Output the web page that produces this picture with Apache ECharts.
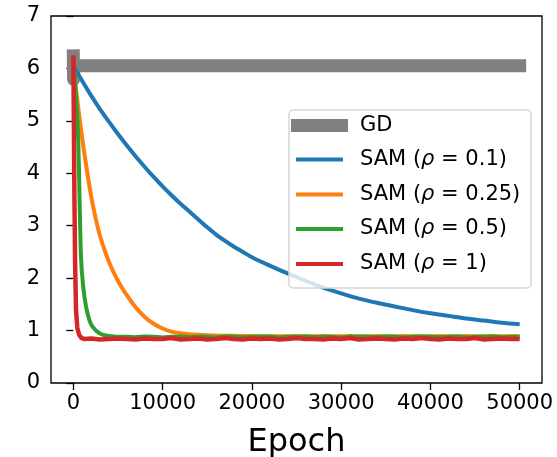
<!DOCTYPE html>
<html>
<head>
    <meta charset="utf-8">
    <title>GD vs SAM</title>
    <script src="https://cdn.jsdelivr.net/npm/echarts@6/dist/echarts.min.js"></script>
</head>
<body style="margin:0">
    <div id="main" style="width:557px; height:457px;"></div>
    <script>
        // 数据：从图上读出来的点
        var xTicks = [0, 10000, 20000, 30000, 40000, 50000]

        var gdEpoch = [0, 30, 60, 50000]
        var gdLoss = [6.24, 5.79, 6.05, 6.05]

        var blueEpoch = [0, 1000, 2000, 3000, 4000, 5000, 6000, 7000, 8000, 9000,
            10000, 11000, 12000, 13000, 14000, 15000, 16000, 17000, 18000, 19000,
            20000, 22000, 24000, 26000, 28000, 30000, 32000, 34000, 36000, 38000,
            40000, 42000, 44000, 46000, 48000, 50000]
        var blueLoss = [6.05, 5.76, 5.48, 5.22, 4.98, 4.75, 4.53, 4.32, 4.12, 3.93,
            3.75, 3.58, 3.42, 3.27, 3.12, 2.97, 2.83, 2.71, 2.60, 2.50,
            2.40, 2.24, 2.09, 1.95, 1.82, 1.71, 1.61, 1.53, 1.46, 1.39,
            1.33, 1.28, 1.23, 1.19, 1.15, 1.12]

        var flatEpoch = [6000, 7000, 8000, 9000, 10000, 11000, 12000, 13000, 14000, 15000,
            16000, 17000, 18000, 19000, 20000, 21000, 22000, 23000, 24000, 25000,
            26000, 27000, 28000, 29000, 30000, 31000, 32000, 33000, 34000, 35000,
            36000, 37000, 38000, 39000, 40000, 41000, 42000, 43000, 44000, 45000,
            46000, 47000, 48000, 49000, 50000]

        var orangeHeadEpoch = [0, 300, 600, 1050, 1500, 1980, 2400, 2900, 3400, 3900, 4400, 4900, 5400]
        var orangeHeadLoss = [6.10, 5.62, 5.18, 4.60, 4.08, 3.58, 3.22, 2.86, 2.585, 2.35, 2.15, 1.98, 1.83]
        var orangeFlatLoss = [1.67, 1.44, 1.26, 1.13, 1.04, 0.98, 0.95, 0.93, 0.92, 0.91,
            0.905, 0.90, 0.90, 0.895, 0.895, 0.89, 0.895, 0.89, 0.89, 0.895,
            0.89, 0.89, 0.895, 0.89, 0.89, 0.895, 0.89, 0.89, 0.895, 0.89,
            0.89, 0.895, 0.89, 0.89, 0.89, 0.895, 0.89, 0.89, 0.895, 0.89,
            0.89, 0.895, 0.89, 0.89, 0.89]

        var greenHeadEpoch = [0, 200, 400, 560, 700, 860, 1100, 1420, 1800, 2170, 2900, 3500, 4300, 5000]
        var greenHeadLoss = [6.20, 5.70, 5.20, 4.60, 3.50, 2.40, 1.85, 1.46, 1.20, 1.07, 0.95, 0.91, 0.89, 0.88]
        var greenFlatLoss = [0.88, 0.875, 0.885, 0.88, 0.87, 0.88, 0.885, 0.875, 0.88, 0.88,
            0.87, 0.885, 0.88, 0.875, 0.88, 0.885, 0.88, 0.87, 0.88, 0.88,
            0.885, 0.875, 0.88, 0.88, 0.87, 0.885, 0.88, 0.88, 0.875, 0.885,
            0.88, 0.87, 0.88, 0.885, 0.88, 0.875, 0.88, 0.885, 0.87, 0.88,
            0.88, 0.885, 0.875, 0.88, 0.88]

        var redHeadEpoch = [0, 60, 120, 200, 300, 450, 650, 900, 1200, 2000, 3000, 4000, 5000]
        var redHeadLoss = [6.25, 5.00, 3.60, 2.30, 1.40, 1.05, 0.92, 0.86, 0.84, 0.85, 0.83, 0.84, 0.85]
        var redFlatLoss = [0.84, 0.83, 0.85, 0.84, 0.84, 0.86, 0.83, 0.84, 0.85, 0.83,
            0.84, 0.86, 0.84, 0.83, 0.85, 0.84, 0.85, 0.83, 0.84, 0.86,
            0.84, 0.84, 0.83, 0.85, 0.84, 0.86, 0.83, 0.84, 0.85, 0.84,
            0.83, 0.85, 0.84, 0.86, 0.84, 0.83, 0.85, 0.84, 0.84, 0.86,
            0.83, 0.84, 0.85, 0.84, 0.84]

        var names = ['GD', 'SAM (ρ = 0.1)', 'SAM (ρ = 0.25)', 'SAM (ρ = 0.5)', 'SAM (ρ = 1)']
        var rhoText = ['', '0.1', '0.25', '0.5', '1']
        var colors = ['#808080', '#1f77b4', '#ff7f0e', '#2ca02c', '#d62728']

        var zip = function(xs, ys) {
            var out = []
            for (var i = 0; i < xs.length; i++) {
                out.push([xs[i], ys[i]])
            }
            return out
        }

        var font = 'DejaVu Sans'
        var element = document.querySelector('#main')
        var myChart = echarts.init(element)

        var lineSeries = function(i, data, width, smooth) {
            return {
                name: names[i],
                type: 'line',
                data: data,
                color: colors[i],
                showSymbol: false,
                symbol: 'none',
                smooth: smooth,
                lineStyle: {width: width, color: colors[i], cap: i == 0 ? 'square' : 'butt', join: 'round'},
                z: 2 + i * 0.01
            }
        }

        // 每个图例单独一个 legend，方便控制位置
        var rowY = [127, 161, 196, 230.5, 265.5]
        var legends = []
        for (var i = 0; i < names.length; i++) {
            var isGD = i == 0
            legends.push({
                data: [names[i]],
                left: isGD ? 291 : 296,
                top: rowY[i] - 12,
                padding: 0,
                icon: 'rect',
                itemWidth: isGD ? 57 : 47,
                itemHeight: isGD ? 13 : 4,
                selectedMode: false,
                z: 5,
                formatter: (function(k) {
                    return function(name) {
                        if (k == 0) {
                            return '{a|GD}'
                        }
                        return '{a|SAM (}{i|ρ}{a| = ' + rhoText[k] + ')}'
                    }
                })(i),
                textStyle: {
                    padding: [0, 0, 0, isGD ? 7 : 12],
                    rich: {
                        a: {fontFamily: font, fontSize: 21, lineHeight: 24, color: '#000'},
                        i: {fontFamily: font, fontSize: 21, lineHeight: 24, fontStyle: 'italic', color: '#000'}
                    }
                }
            })
        }

        var option = {
            animation: false,
            backgroundColor: '#fff',
            grid: {
                left: 51, top: 16, right: 15, bottom: 74,
                show: true, borderColor: '#000', borderWidth: 1.3,
                containLabel: false,
                outerBoundsMode: 'none'
            },
            legend: legends,
            graphic: [{
                type: 'rect',
                z: 3,
                shape: {x: 289, y: 110, width: 242, height: 178, r: 4},
                style: {fill: 'rgba(255,255,255,0.8)', stroke: '#d6d6d6', lineWidth: 1.5}
            }],
            xAxis: {
                type: 'value',
                min: -2500,
                max: 52500,
                name: 'Epoch',
                nameLocation: 'middle',
                nameGap: 44,
                nameTextStyle: {fontFamily: font, fontSize: 32, color: '#000'},
                axisLine: {show: false},
                splitLine: {show: false},
                axisTick: {show: true, inside: false, length: 7, customValues: xTicks,
                    lineStyle: {color: '#000', width: 1.3}},
                axisLabel: {customValues: xTicks, margin: 10, fontFamily: font, fontSize: 21, color: '#000',
                    formatter: function(v) { return String(v) }}
            },
            yAxis: {
                type: 'value',
                min: 0,
                max: 7,
                interval: 1,
                axisLine: {show: false},
                splitLine: {show: false},
                axisTick: {show: true, inside: false, length: 7, lineStyle: {color: '#000', width: 1.3}},
                axisLabel: {margin: 11, fontFamily: font, fontSize: 21, color: '#000'}
            },
            series: [
                lineSeries(0, zip(gdEpoch, gdLoss), 13, false),
                lineSeries(1, zip(blueEpoch, blueLoss), 4, 0.3),
                lineSeries(2, zip(orangeHeadEpoch.concat(flatEpoch), orangeHeadLoss.concat(orangeFlatLoss)), 4, 0.3),
                lineSeries(3, zip(greenHeadEpoch.concat(flatEpoch), greenHeadLoss.concat(greenFlatLoss)), 4, 0.2),
                lineSeries(4, zip(redHeadEpoch.concat(flatEpoch), redHeadLoss.concat(redFlatLoss)), 4.5, false)
            ]
        }

        myChart.setOption(option)
    </script>
</body>
</html>
